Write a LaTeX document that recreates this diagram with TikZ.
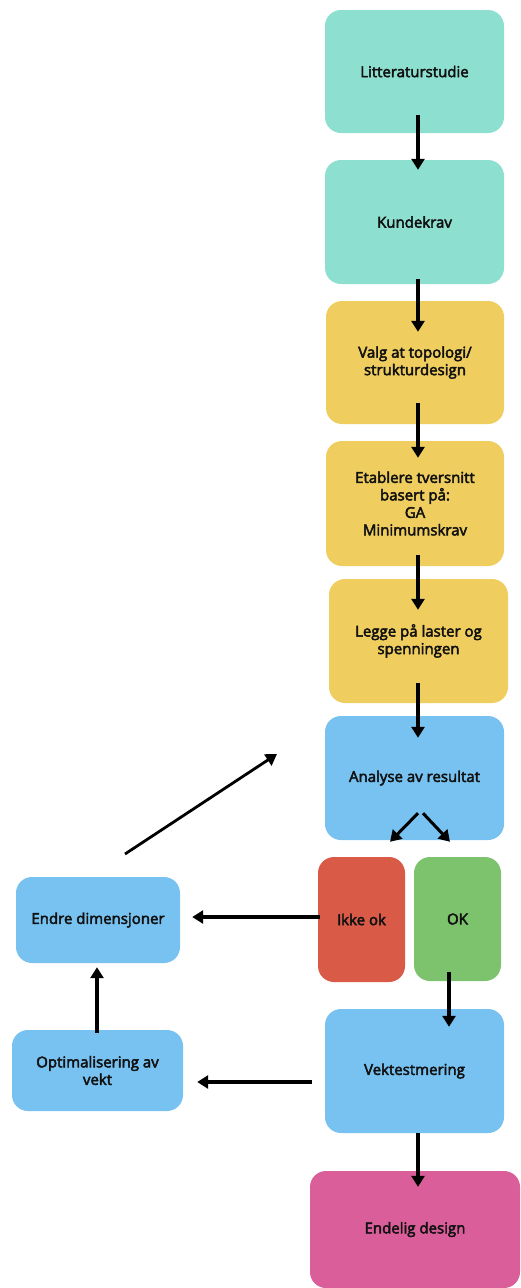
\documentclass[tikz,border=0pt]{standalone}
\usepackage{fontspec}
\setmainfont{Open Sans}
\newfontfamily\medfont{Open Sans}[FakeBold=3]
\usetikzlibrary{arrows.meta}
\definecolor{cteal}{HTML}{8DE0D0}
\definecolor{cyellow}{HTML}{EFCE5F}
\definecolor{cblue}{HTML}{77C2F1}
\definecolor{cred}{HTML}{D95A47}
\definecolor{cgreen}{HTML}{7DC36E}
\definecolor{cpink}{HTML}{D95E99}
\definecolor{ctext}{HTML}{111111}
\begin{document}
\begin{tikzpicture}[x=1pt,y=-1pt,
  box/.style={rounded corners=16pt,inner sep=0pt,align=center,text=ctext,
    font=\medfont\fontsize{15}{17.5}\selectfont},
  arr/.style={line width=3.4pt,-{Triangle[length=11pt,width=13pt]}}]
\useasboundingbox[fill=white] (0,0) rectangle (521,1288);
\node[box,fill=cteal,minimum width=179pt,minimum height=123pt] (lit) at (414.5,71.5) {Litteraturstudie};
\node[box,fill=cteal,minimum width=179pt,minimum height=124pt] (kun) at (414.5,222) {Kundekrav};
\node[box,fill=cyellow,minimum width=178pt,minimum height=123pt] (valg) at (415,362.5) {Valg at topologi/\\strukturdesign};
\node[box,fill=cyellow,minimum width=178pt,minimum height=125pt] (etab) at (415,503.5) {Etablere tversnitt\\basert på:\\GA\\Minimumskrav};
\node[box,fill=cyellow,minimum width=179pt,minimum height=124pt] (legg) at (418.5,641) {Legge på laster og\\spenningen};
\node[box,fill=cblue,minimum width=179pt,minimum height=124pt] (anal) at (414.5,778) {Analyse av resultat};
\node[box,fill=cred,minimum width=87pt,minimum height=125pt] (ikke) at (361.5,919.5) {Ikke ok};
\node[box,fill=cgreen,minimum width=87pt,minimum height=124pt] (ok) at (457.5,919) {OK};
\node[box,fill=cblue,minimum width=164pt,minimum height=86pt] (endre) at (98,920) {Endre dimensjoner};
\node[box,fill=cblue,minimum width=171pt,minimum height=81pt] (opt) at (97.5,1070.5) {Optimalisering av\\vekt};
\node[box,fill=cblue,minimum width=179pt,minimum height=124pt] (vekt) at (414.5,1071) {Vektestmering};
\node[box,fill=cpink,minimum width=210pt,minimum height=117pt] (end) at (415,1229.5) {Endelig design};

\draw[arr] ([xshift=3.5pt,yshift=18pt]lit.south) -- ([xshift=3.5pt,yshift=-10pt]kun.north);
\draw[arr] ([xshift=3.5pt,yshift=5pt]kun.south) -- ([xshift=3pt,yshift=-31pt]valg.north);
\draw[arr] ([xshift=3pt,yshift=21pt]valg.south) -- ([xshift=3pt,yshift=-17pt]etab.north);
\draw[arr] ([xshift=3pt,yshift=11pt]etab.south) -- ([xshift=-0.5pt,yshift=-31pt]legg.north);
\draw[arr] ([xshift=-0.5pt,yshift=20pt]legg.south) -- ([xshift=3.5pt,yshift=-22pt]anal.north);
\draw[arr,line width=3pt] ([xshift=3.5pt,yshift=27pt]anal.south) -- ([xshift=28.5pt,yshift=15pt]ikke.north);
\draw[arr,line width=3pt] ([xshift=8.5pt,yshift=27pt]anal.south) -- ([xshift=-7.5pt,yshift=15pt]ok.north);
\draw[arr] ([xshift=2pt,yshift=2.5pt]ikke.west) -- ([xshift=12pt,yshift=3pt]endre.east);
\draw[arr] ([xshift=-8.5pt,yshift=9pt]ok.south) -- ([xshift=34.5pt,yshift=-18pt]vekt.north);
\draw[arr] ([xshift=-13pt,yshift=-11pt]vekt.west) -- ([xshift=14pt,yshift=-11.5pt]opt.east);
\draw[arr] ([xshift=-0.5pt,yshift=-3pt]opt.north) -- ([xshift=-1pt,yshift=-4pt]endre.south);
\draw[arr] ([xshift=3.5pt]vekt.south) -- ([xshift=3pt,yshift=-16pt]end.north);
\coordinate (d1) at (125,854);
\coordinate (d2) at (277,754);
\draw[arr,line width=2.8pt] (d1) -- (d2);
\end{tikzpicture}
\end{document}
